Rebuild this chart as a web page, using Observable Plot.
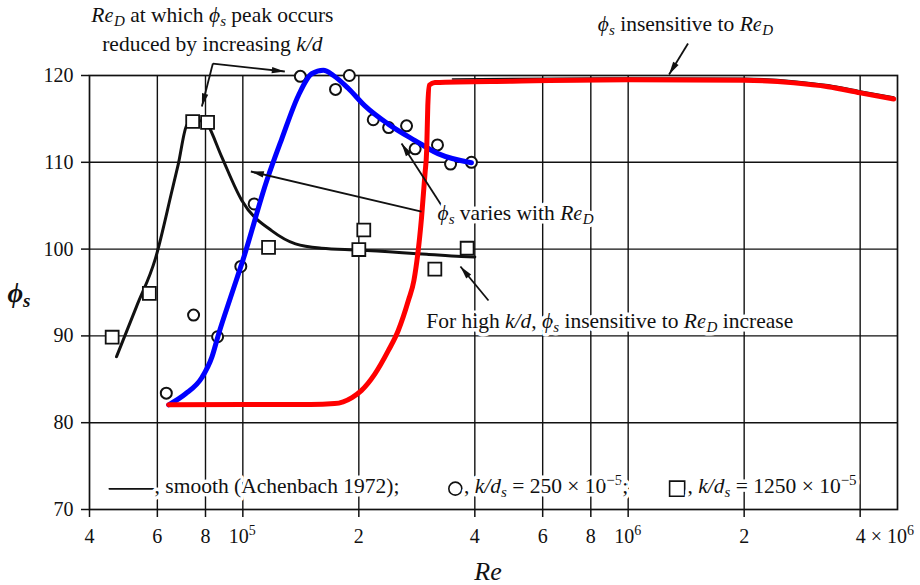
<!DOCTYPE html>
<html><head><meta charset="utf-8">
<script src="https://cdn.jsdelivr.net/npm/d3@7"></script>
<script src="https://cdn.jsdelivr.net/npm/@observablehq/plot@0.6"></script>
<style>
body{margin:0;background:#fff;}
#chart svg, #chart svg text, #chart svg tspan{font-family:"Liberation Serif",serif !important;}
</style></head><body><div id="chart"></div>
<script>
const FONT = '"Liberation Serif", serif';
// ---- axes ----
const xTicks = [4e4, 6e4, 8e4, 1e5, 2e5, 4e5, 6e5, 8e5, 1e6, 2e6, 4e6];
const xTickLabels = ["4", "6", "8", "", "2", "4", "6", "8", "", "2", ""];
const xPowerTicks = [1e5, 1e6];
const xPowerLabels = [[["10",""],["5","p"]], [["10",""],["6","p"]]];
const xLastLabel = [["4 × 10",""],["6","p"]];
const yTicks = [70, 80, 90, 100, 110, 120];
const xGrid = [6e4, 8e4, 1e5, 2e5, 4e5, 6e5, 8e5, 1e6, 2e6, 4e6];
const yGrid = [80, 90, 100, 110];

// ---- smooth curve (Achenbach 1972), black ----
const smoothRe  = [4.70e4, 5.3e4, 5.93e4, 6.55e4, 6.8e4, 7.16e4, 7.5e4, 8.0e4, 8.1e4, 8.82e4, 9.94e4, 1.19e5, 1.37e5, 1.6e5, 2.0e5, 3.0e5, 3.69e5, 4.0e5];
const smoothPhi = [87.6, 93.4, 98.9, 106.75, 109.8, 114.3, 114.8, 114.8, 114.4, 110.6, 105.6, 102.1, 100.6, 100.1, 99.9, 99.4, 99.15, 99.1];
const topBlackRe  = [3.5e5, 1e6, 2e6, 2.69e6, 3.3e6, 4.0e6, 4.89e6];
const topBlackPhi = [119.6, 119.72, 119.67, 119.37, 118.92, 118.22, 117.52];

// ---- blue curve ----
const blueRe  = [6.42e4, 7.09e4, 7.83e4, 8.31e4, 8.65e4, 9.36e4, 1.0e5, 1.154e5, 1.262e5, 1.394e5, 1.509e5, 1.618e5, 1.718e5, 1.879e5, 2.074e5, 2.385e5, 2.80e5, 3.21e5, 3.92e5];
const bluePhi = [82.06, 83.3, 85.2, 87.55, 90.2, 94.85, 98.7, 107.9, 112.7, 117.7, 120.2, 120.6, 120.0, 118.5, 116.5, 114.4, 112.5, 111.0, 109.95];

// ---- red curve ----
const redRe  = [6.42e4, 1.0e5, 1.5e5, 1.73e5, 1.92e5, 2.03e5, 2.2e5, 2.385e5, 2.53e5, 2.69e5, 2.78e5, 2.91e5, 2.97e5, 3.0e5, 3.02e5, 3.05e5, 3.15e5, 5e5, 1e6, 2e6, 2.69e6, 3.3e6, 4.0e6, 4.89e6];
const redPhi = [82.06, 82.1, 82.1, 82.2, 82.9, 83.7, 85.6, 88.3, 90.6, 94.1, 96.4, 103.7, 108.7, 111.4, 116.5, 118.9, 119.2, 119.35, 119.5, 119.45, 119.15, 118.7, 118.0, 117.3];

// ---- data points ----
const circleRe  = [6.33e4, 7.45e4, 8.6e4, 9.88e4, 1.07e5, 1.41e5, 1.74e5, 1.89e5, 2.18e5, 2.39e5, 2.66e5, 2.80e5, 3.2e5, 3.46e5, 3.92e5];
const circlePhi = [83.4, 92.4, 89.9, 98.0, 105.2, 119.9, 118.4, 120.0, 114.9, 114.0, 114.2, 111.55, 112.0, 109.8, 110.0];
const squareRe  = [4.58e4, 5.72e4, 7.41e4, 8.1e4, 1.166e5, 2.0e5, 2.06e5, 3.15e5, 3.82e5];
const squarePhi = [89.85, 94.9, 114.7, 114.6, 100.2, 99.95, 102.2, 97.7, 100.1];

// ---- annotation arrows ----
const arrowX1 = [8.36e4, 8.36e4, 1.43e6, 2.909e5, 3.278e5, 4.34e5];
const arrowY1 = [121.38, 121.38, 123.69, 104.33, 105.02, 94.08];
const arrowX2 = [1.285e5, 7.83e4, 1.277e6, 1.049e5, 2.582e5, 3.67e5];
const arrowY2 = [120.46, 116.43, 120.12, 108.94, 112.17, 98.0];

// ---- annotation texts: [text, style] ; i = italic, b = subscript, p = superscript ----
const peakText1 = [["Re","i"],["D","ib"],[" at which ",""],["ϕ","i"],["s","ib"],[" peak occurs",""]];
const peakText2 = [["reduced by increasing ",""],["k/d","i"]];
const insensText = [["ϕ","i"],["s","ib"],[" insensitive to ",""],["Re","i"],["D","ib"]];
const variesText = [["ϕ","i"],["s","ib"],[" varies with ",""],["Re","i"],["D","ib"]];
const highText = [["For high ",""],["k/d","i"],[", ",""],["ϕ","i"],["s","ib"],[" insensitive to ",""],["Re","i"],["D","ib"],[" increase",""]];
const legendText1 = [[", smooth (Achenbach 1972);",""]];
const legendText2 = [[", ",""],["k/d","i"],["s","ib"],[" = 250 × 10",""],["−5","p"],[";",""]];
const legendText3 = [[", ",""],["k/d","i"],["s","ib"],[" = 1250 × 10",""],["−5","p"]];
const textX = [8.36e4, 8.36e4, 1.413e6, 3.21e5, 3.0e5, 5.92e4, 3.76e5, 1.43e6];
const textY = [126.11, 122.82, 125.1, 103.3, 90.82, 71.81, 71.81, 71.81];
const textAnchor = ["middle", "middle", "middle", "start", "start", "start", "start", "start"];
const texts = [peakText1, peakText2, insensText, variesText, highText, legendText1, legendText2, legendText3];

// ---- legend symbols ----
const legendLineRe = [4.5e4, 5.88e4];
const legendLinePhi = [72.38, 72.38];
const legendCircle = [3.56e5, 72.4];
const legendSquare = [1.34e6, 72.4];

// ---- layout ----
const W = 920, H = 585, ML = 89, MR = 23, MT = 75, MB = 76;
const xDomain = [4e4, 5e6], yDomain = [70, 120];

const zip = (xs, ys) => xs.map((x, i) => ({x, y: ys[i]}));
const ink = "#111";

// standalone scales (same as the plot's) to orient the arrowheads
const Xs = Plot.scale({x: {type: "log", domain: xDomain, range: [ML, W - MR]}});
const Ys = Plot.scale({y: {domain: yDomain, range: [H - MB, MT]}});
const arrows = arrowX1.map((x1, i) => {
  const dx = Xs.apply(arrowX2[i]) - Xs.apply(x1), dy = Ys.apply(arrowY2[i]) - Ys.apply(arrowY1[i]);
  return {x1, y1: arrowY1[i], x2: arrowX2[i], y2: arrowY2[i], angle: Math.atan2(dx, -dy) * 180 / Math.PI};
});
// filled narrow arrowhead, tip at origin, pointing up
const headSymbol = {draw(ctx) { ctx.moveTo(0, 0); ctx.lineTo(3.2, 13); ctx.lineTo(-3.2, 13); ctx.closePath(); }};

const plot = Plot.plot({
  width: W, height: H,
  marginLeft: ML, marginRight: MR, marginTop: MT, marginBottom: MB,
  style: {fontFamily: FONT, fontSize: "20px", background: "white", color: ink},
  x: {type: "log", domain: xDomain},
  y: {domain: yDomain},
  marks: [
    Plot.ruleX(xGrid, {stroke: ink, strokeWidth: 1.4}),
    Plot.ruleY(yGrid, {stroke: ink, strokeWidth: 1.4}),
    Plot.frame({stroke: ink, strokeWidth: 1.7}),
    Plot.axisX({ticks: xTicks, text: null, tickSize: 8, label: null, strokeWidth: 1.5}),
    Plot.text(xTicks, {x: d => d, text: (d, i) => xTickLabels[i], frameAnchor: "bottom", lineAnchor: "top", dy: 19, fontSize: 20, fontFamily: FONT}),
    Plot.axisY({ticks: yTicks, tickSize: 8, tickPadding: 8, fontSize: 20, fontFamily: FONT, label: null, strokeWidth: 1.5}),
    Plot.line(zip(smoothRe, smoothPhi), {x: "x", y: "y", stroke: ink, strokeWidth: 3, curve: "monotone-x"}),
    Plot.line(zip(topBlackRe, topBlackPhi), {x: "x", y: "y", stroke: ink, strokeWidth: 1.6, curve: "monotone-x"}),
    Plot.dot(zip(circleRe, circlePhi), {x: "x", y: "y", r: 5.5, stroke: ink, strokeWidth: 2, fill: "white"}),
    Plot.dot(zip(squareRe, squarePhi), {x: "x", y: "y", symbol: "square", r: 7.3, stroke: ink, strokeWidth: 1.8, fill: "white"}),
    Plot.line(zip(blueRe, bluePhi), {x: "x", y: "y", stroke: "#0000ff", strokeWidth: 5, curve: "monotone-x"}),
    Plot.line(zip(redRe, redPhi), {x: "x", y: "y", stroke: "#ff0000", strokeWidth: 5, curve: "monotone-x"}),
    Plot.link(arrows, {x1: "x1", y1: "y1", x2: "x2", y2: "y2", stroke: ink, strokeWidth: 1.8}),
    Plot.dot(arrows, {x: "x2", y: "y2", rotate: "angle", symbol: headSymbol, fill: ink, stroke: "none", r: 5}),
    Plot.line(zip(legendLineRe, legendLinePhi), {x: "x", y: "y", stroke: ink, strokeWidth: 1.6}),
    Plot.dot([legendCircle], {x: d => d[0], y: d => d[1], r: 6.5, stroke: ink, strokeWidth: 1.6, fill: "white"}),
    Plot.dot([legendSquare], {x: d => d[0], y: d => d[1], symbol: "square", r: 8.5, stroke: ink, strokeWidth: 1.6, fill: "white"})
  ]
});

const svg = d3.select(plot);
const sx = plot.scale("x"), sy = plot.scale("y");

function rich(px, py, segs, anchor, size, halo) {
  const small = Math.round(size * 0.7);
  const t = svg.append("text")
    .attr("x", px).attr("y", py)
    .attr("text-anchor", anchor)
    .attr("font-family", "Liberation Serif")
    .attr("font-size", size)
    .attr("fill", ink);
  if (halo) t.attr("stroke", "white").attr("stroke-width", 7).attr("stroke-linejoin", "round").attr("paint-order", "stroke");
  let shift = 0;
  for (const [txt, st] of segs) {
    const sp = t.append("tspan").text(txt);
    if (st.includes("i")) sp.attr("font-style", "italic");
    const target = st.includes("b") ? 4 : st.includes("p") ? -8 : 0;
    if (target !== shift) { sp.attr("dy", target - shift); shift = target; }
    if (target !== 0) sp.attr("font-size", small);
  }
  return t;
}
texts.forEach((segs, i) => rich(sx.apply(textX[i]), sy.apply(textY[i]), segs, textAnchor[i], 21.5, true));

// power-of-ten tick labels
const [fx0, fx1] = sx.range, [fy0, fy1] = sy.range;
xPowerTicks.forEach((t, i) => rich(sx.apply(t), fy0 + 34, xPowerLabels[i], "middle", 20, false));
rich(sx.apply(xTicks[xTicks.length - 1]) - 4, fy0 + 34, xLastLabel, "start", 20, false);

// axis titles
const yTitle = svg.append("text")
  .attr("x", fx0 - 70).attr("y", (fy0 + fy1) / 2 + 10)
  .attr("text-anchor", "middle").attr("font-family", "Liberation Serif")
  .attr("font-size", 27).attr("font-style", "italic").attr("font-weight", "bold").attr("fill", ink);
yTitle.append("tspan").text("ϕ");
yTitle.append("tspan").text("s").attr("font-size", 19).attr("dy", 5);
svg.append("text")
  .attr("x", (fx0 + fx1) / 2 - 5).attr("y", fy0 + 71)
  .attr("text-anchor", "middle").attr("font-family", "Liberation Serif")
  .attr("font-size", 26).attr("font-style", "italic").attr("fill", ink)
  .text("Re");

document.getElementById("chart").appendChild(plot);
</script></body></html>
